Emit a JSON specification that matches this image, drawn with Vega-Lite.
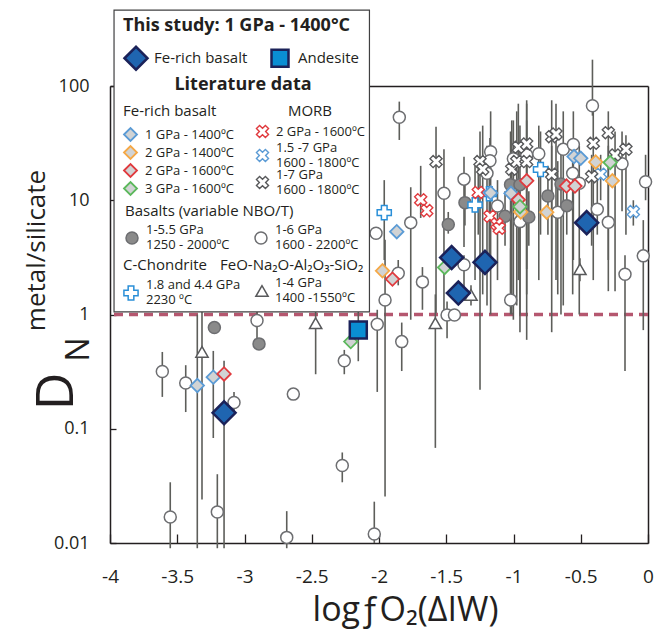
{
  "$schema": "https://vega.github.io/schema/vega-lite/v6.json",
  "width": 538,
  "height": 457,
  "autosize": {"type": "none"},
  "padding": {"left": 110, "top": 86, "right": 10, "bottom": 90},
  "config": {"view": {"stroke": null}, "font": "Open Sans"},
  "data": {"values": [
    {"g":"o","s":"1-6 GPa|1600 - 2200ºC","x":-3.611,"y":0.317,"lo":0.19,"hi":0.47},
    {"g":"o","s":"1-6 GPa|1600 - 2200ºC","x":-3.437,"y":0.251,"lo":0.14,"hi":0.36},
    {"g":"o","s":"1-6 GPa|1600 - 2200ºC","x":-3.078,"y":0.170,"lo":0.14,"hi":0.21},
    {"g":"o","s":"1-6 GPa|1600 - 2200ºC","x":-2.637,"y":0.201},
    {"g":"o","s":"1-6 GPa|1600 - 2200ºC","x":-2.273,"y":0.0476,"lo":0.034,"hi":0.062},
    {"g":"o","s":"1-6 GPa|1600 - 2200ºC","x":-3.552,"y":0.0169,"lo":0.009,"hi":0.034},
    {"g":"o","s":"1-6 GPa|1600 - 2200ºC","x":-3.202,"y":0.0187,"lo":0.009,"hi":0.040},
    {"g":"o","s":"1-6 GPa|1600 - 2200ºC","x":-2.686,"y":0.0112,"lo":0.009,"hi":0.019},
    {"g":"o","s":"1-6 GPa|1600 - 2200ºC","x":-2.035,"y":0.0120,"lo":0.010,"hi":0.023},
    {"g":"o","s":"1-6 GPa|1600 - 2200ºC","x":-2.907,"y":0.885,"lo":0.56,"hi":1.15},
    {"g":"o","s":"1-6 GPa|1600 - 2200ºC","x":-2.258,"y":0.393,"lo":0.30,"hi":0.49},
    {"g":"o","s":"1-6 GPa|1600 - 2200ºC","x":-2.013,"y":0.822,"lo":0.21,"hi":1.1},
    {"g":"o","s":"1-6 GPa|1600 - 2200ºC","x":-1.955,"y":1.34,"lo":0.0255,"hi":4.5},
    {"g":"o","s":"1-6 GPa|1600 - 2200ºC","x":-1.831,"y":0.579,"lo":0.32,"hi":0.85},
    {"g":"o","s":"1-6 GPa|1600 - 2200ºC","x":-1.494,"y":0.99,"lo":0.62,"hi":1.3},
    {"g":"o","s":"1-6 GPa|1600 - 2200ºC","x":-1.439,"y":0.99},
    {"g":"o","s":"1-6 GPa|1600 - 2200ºC","x":-1.849,"y":53.2,"lo":33.7,"hi":73},
    {"g":"o","s":"1-6 GPa|1600 - 2200ºC","x":-2.022,"y":5.14},
    {"g":"o","s":"1-6 GPa|1600 - 2200ºC","x":-1.764,"y":6.37,"lo":0.9,"hi":13},
    {"g":"o","s":"1-6 GPa|1600 - 2200ºC","x":-1.857,"y":2.30,"lo":1.8,"hi":3.0},
    {"g":"o","s":"1-6 GPa|1600 - 2200ºC","x":-1.677,"y":1.93,"lo":1.1,"hi":2.6},
    {"g":"o","s":"1-6 GPa|1600 - 2200ºC","x":-1.517,"y":11.5,"lo":0.9,"hi":28},
    {"g":"o","s":"1-6 GPa|1600 - 2200ºC","x":-1.368,"y":2.73,"lo":1.6,"hi":3.3},
    {"g":"o","s":"1-6 GPa|1600 - 2200ºC","x":-1.368,"y":15.3,"lo":3.9,"hi":24},
    {"g":"o","s":"1-6 GPa|1600 - 2200ºC","x":-1.170,"y":26.6,"lo":1.0,"hi":60},
    {"g":"o","s":"1-6 GPa|1600 - 2200ºC","x":-1.175,"y":22.2,"lo":3,"hi":35},
    {"g":"o","s":"1-6 GPa|1600 - 2200ºC","x":-1.197,"y":17.2,"lo":1.2,"hi":30},
    {"g":"o","s":"1-6 GPa|1600 - 2200ºC","x":-1.119,"y":8.92,"lo":2,"hi":15},
    {"g":"o","s":"1-6 GPa|1600 - 2200ºC","x":-1.001,"y":23.1,"lo":0.9,"hi":50},
    {"g":"o","s":"1-6 GPa|1600 - 2200ºC","x":-0.902,"y":24.9,"lo":0.6,"hi":70},
    {"g":"o","s":"1-6 GPa|1600 - 2200ºC","x":-0.812,"y":25.5,"lo":2,"hi":45},
    {"g":"o","s":"1-6 GPa|1600 - 2200ºC","x":-1.021,"y":1.34,"lo":1.2,"hi":3.8},
    {"g":"o","s":"1-6 GPa|1600 - 2200ºC","x":-0.952,"y":6.50,"lo":1,"hi":12},
    {"g":"o","s":"1-6 GPa|1600 - 2200ºC","x":-0.671,"y":7.85,"lo":1.5,"hi":22},
    {"g":"o","s":"1-6 GPa|1600 - 2200ºC","x":-0.630,"y":27.9,"lo":1.2,"hi":60},
    {"g":"o","s":"1-6 GPa|1600 - 2200ºC","x":-0.555,"y":30.8,"lo":3,"hi":60},
    {"g":"o","s":"1-6 GPa|1600 - 2200ºC","x":-0.560,"y":17.2,"lo":1.5,"hi":35},
    {"g":"o","s":"1-6 GPa|1600 - 2200ºC","x":-0.511,"y":14.1,"lo":1.0,"hi":30},
    {"g":"o","s":"1-6 GPa|1600 - 2200ºC","x":-0.413,"y":67.2,"lo":55,"hi":170},
    {"g":"o","s":"1-6 GPa|1600 - 2200ºC","x":-0.377,"y":8.34,"lo":5,"hi":20},
    {"g":"o","s":"1-6 GPa|1600 - 2200ºC","x":-0.295,"y":6.42,"lo":1.6,"hi":30},
    {"g":"o","s":"1-6 GPa|1600 - 2200ºC","x":-0.193,"y":20.9,"lo":8,"hi":40},
    {"g":"o","s":"1-6 GPa|1600 - 2200ºC","x":-0.018,"y":14.5,"lo":10,"hi":25},
    {"g":"o","s":"1-6 GPa|1600 - 2200ºC","x":-0.035,"y":3.26,"lo":0.73,"hi":6.7},
    {"g":"o","s":"1-6 GPa|1600 - 2200ºC","x":-0.171,"y":2.25,"lo":0.32,"hi":3.3},
    {"g":"f","s":"1-5.5 GPa|1250 - 2000ºC","x":-3.224,"y":0.768},
    {"g":"f","s":"1-5.5 GPa|1250 - 2000ºC","x":-2.892,"y":0.553},
    {"g":"f","s":"1-5.5 GPa|1250 - 2000ºC","x":-1.485,"y":6.14,"lo":5.1,"hi":7.9},
    {"g":"f","s":"1-5.5 GPa|1250 - 2000ºC","x":-1.361,"y":9.53,"lo":6,"hi":14},
    {"g":"f","s":"1-5.5 GPa|1250 - 2000ºC","x":-1.063,"y":7.24,"lo":4,"hi":12},
    {"g":"f","s":"1-5.5 GPa|1250 - 2000ºC","x":-1.022,"y":13.7,"lo":1.0,"hi":40},
    {"g":"f","s":"1-5.5 GPa|1250 - 2000ºC","x":-0.952,"y":13.7,"lo":0.7,"hi":45},
    {"g":"f","s":"1-5.5 GPa|1250 - 2000ºC","x":-0.886,"y":7.14,"lo":4,"hi":12},
    {"g":"f","s":"1-5.5 GPa|1250 - 2000ºC","x":-0.744,"y":10.9,"lo":5,"hi":20},
    {"g":"f","s":"1-5.5 GPa|1250 - 2000ºC","x":-0.647,"y":13.9,"lo":1.0,"hi":30},
    {"g":"f","s":"1-5.5 GPa|1250 - 2000ºC","x":-0.604,"y":8.97,"lo":5,"hi":15},
    {"g":"t","s":"1-4 GPa|1400 -1550ºC","x":-3.316,"y":0.471,"lo":0.024,"hi":1.5},
    {"g":"t","s":"1-4 GPa|1400 -1550ºC","x":-2.471,"y":0.839,"lo":0.3,"hi":1.1},
    {"g":"t","s":"1-4 GPa|1400 -1550ºC","x":-1.581,"y":0.839,"lo":0.068,"hi":1.5},
    {"g":"t","s":"1-4 GPa|1400 -1550ºC","x":-1.316,"y":1.48,"lo":1.2,"hi":1.8},
    {"g":"t","s":"1-4 GPa|1400 -1550ºC","x":-0.506,"y":2.49,"lo":1.95,"hi":3.1},
    {"g":"p","s":"1.8 and 4.4 GPa| 2230 ºC","x":-1.961,"y":7.79,"lo":3.0,"hi":15},
    {"g":"p","s":"1.8 and 4.4 GPa| 2230 ºC","x":-1.286,"y":9.10,"lo":2,"hi":20},
    {"g":"p","s":"1.8 and 4.4 GPa| 2230 ºC","x":-1.180,"y":11.4,"lo":3,"hi":25},
    {"g":"p","s":"1.8 and 4.4 GPa| 2230 ºC","x":-0.799,"y":18.6,"lo":5,"hi":40},
    {"g":"mr","s":"2 GPa - 1600ºC","x":-1.690,"y":10.1,"lo":7,"hi":20},
    {"g":"mr","s":"2 GPa - 1600ºC","x":-1.645,"y":8.11},
    {"g":"mr","s":"2 GPa - 1600ºC","x":-1.262,"y":11.7,"lo":5,"hi":22},
    {"g":"mr","s":"2 GPa - 1600ºC","x":-1.175,"y":7.24,"lo":4,"hi":12},
    {"g":"mr","s":"2 GPa - 1600ºC","x":-1.123,"y":6.20},
    {"g":"mr","s":"2 GPa - 1600ºC","x":-1.106,"y":5.69},
    {"g":"m","s":"1.5 -7 GPa|1600 - 1800ºC","x":-0.352,"y":16.9,"lo":10,"hi":25},
    {"g":"m","s":"1.5 -7 GPa|1600 - 1800ºC","x":-0.109,"y":7.95,"lo":6,"hi":10},
    {"g":"m","s":"1-7 GPa|1600 - 1800ºC","x":-1.576,"y":21.8,"lo":1.03,"hi":44},
    {"g":"m","s":"1-7 GPa|1600 - 1800ºC","x":-1.249,"y":21.8,"lo":0.22,"hi":40},
    {"g":"m","s":"1-7 GPa|1600 - 1800ºC","x":-1.229,"y":18.7,"lo":1.5,"hi":45},
    {"g":"m","s":"1-7 GPa|1600 - 1800ºC","x":-1.013,"y":18.7,"lo":1.0,"hi":50},
    {"g":"m","s":"1-7 GPa|1600 - 1800ºC","x":-0.976,"y":21.8,"lo":1.2,"hi":60},
    {"g":"m","s":"1-7 GPa|1600 - 1800ºC","x":-0.964,"y":29.1,"lo":2,"hi":70},
    {"g":"m","s":"1-7 GPa|1600 - 1800ºC","x":-0.902,"y":31.1,"lo":2.5,"hi":75},
    {"g":"m","s":"1-7 GPa|1600 - 1800ºC","x":-0.902,"y":21.8,"lo":1.5,"hi":50},
    {"g":"m","s":"1-7 GPa|1600 - 1800ºC","x":-0.716,"y":36.0,"lo":0.7,"hi":75},
    {"g":"m","s":"1-7 GPa|1600 - 1800ºC","x":-0.684,"y":38.0,"lo":2,"hi":70},
    {"g":"m","s":"1-7 GPa|1600 - 1800ºC","x":-0.716,"y":16.9,"lo":3,"hi":30},
    {"g":"m","s":"1-7 GPa|1600 - 1800ºC","x":-0.407,"y":31.5,"lo":2,"hi":60},
    {"g":"m","s":"1-7 GPa|1600 - 1800ºC","x":-0.295,"y":39.0,"lo":3,"hi":60},
    {"g":"m","s":"1-7 GPa|1600 - 1800ºC","x":-0.419,"y":16.1,"lo":4,"hi":25},
    {"g":"m","s":"1-7 GPa|1600 - 1800ºC","x":-0.245,"y":24.9,"lo":1.6,"hi":40},
    {"g":"m","s":"1-7 GPa|1600 - 1800ºC","x":-0.164,"y":27.9,"lo":5,"hi":37},
    {"g":"e","s":"1 GPa - 1400ºC","x":-3.351,"y":0.239,"lo":0.009,"hi":1.0},
    {"g":"e","s":"1 GPa - 1400ºC","x":-3.232,"y":0.283,"lo":0.083,"hi":0.48},
    {"g":"e","s":"1 GPa - 1400ºC","x":-1.868,"y":5.31},
    {"g":"e","s":"1 GPa - 1400ºC","x":-1.170,"y":11.6},
    {"g":"e","s":"1 GPa - 1400ºC","x":-1.019,"y":11.5},
    {"g":"e","s":"1 GPa - 1400ºC","x":-0.550,"y":24.1},
    {"g":"e","s":"1 GPa - 1400ºC","x":-0.500,"y":23.3},
    {"g":"e","s":"2 GPa - 1400ºC","x":-1.974,"y":2.41},
    {"g":"e","s":"2 GPa - 1400ºC","x":-0.946,"y":7.90},
    {"g":"e","s":"2 GPa - 1400ºC","x":-0.753,"y":7.85},
    {"g":"e","s":"2 GPa - 1400ºC","x":-0.389,"y":21.6},
    {"g":"e","s":"2 GPa - 1400ºC","x":-0.265,"y":14.8},
    {"g":"e","s":"2 GPa - 1600ºC","x":-3.152,"y":0.302},
    {"g":"e","s":"2 GPa - 1600ºC","x":-1.900,"y":2.04},
    {"g":"e","s":"2 GPa - 1600ºC","x":-0.964,"y":10.1},
    {"g":"e","s":"2 GPa - 1600ºC","x":-0.902,"y":14.8},
    {"g":"e","s":"2 GPa - 1600ºC","x":-0.606,"y":13.3},
    {"g":"e","s":"2 GPa - 1600ºC","x":-0.543,"y":13.3},
    {"g":"e","s":"3 GPa - 1600ºC","x":-2.210,"y":0.579},
    {"g":"e","s":"3 GPa - 1600ºC","x":-1.512,"y":2.58},
    {"g":"e","s":"3 GPa - 1600ºC","x":-0.952,"y":8.79},
    {"g":"e","s":"3 GPa - 1600ºC","x":-0.281,"y":21.4},
    {"g":"s","s":"Fe-rich basalt","x":-3.152,"y":0.138,"lo":0.009,"hi":0.393},
    {"g":"s","s":"Fe-rich basalt","x":-1.460,"y":3.15},
    {"g":"s","s":"Fe-rich basalt","x":-1.410,"y":1.54},
    {"g":"s","s":"Fe-rich basalt","x":-1.212,"y":2.86},
    {"g":"s","s":"Fe-rich basalt","x":-0.456,"y":6.37},
    {"g":"s","s":"Andesite","x":-2.154,"y":0.733,"lo":0.39,"hi":1.34}
  ]},
  "resolve": {
    "scale": {"fill": "independent", "stroke": "independent", "shape": "independent", "size": "independent"},
    "axis": {"x": "independent", "y": "independent"}
  },
  "layer": [
    {
      "data": {"values": [{}]},
      "mark": {"type": "rule", "color": "#b5576f", "strokeWidth": 3.5, "strokeDash": [9, 6]},
      "encoding": {
        "y": {"datum": 1, "type": "quantitative", "scale": {"type": "log", "domain": [0.01, 100], "nice": false}, "axis": null}
      }
    },
    {
      "transform": [{"filter": "isValid(datum.lo)"}],
      "mark": {"type": "rule", "color": "#5d5e5a", "strokeWidth": 1.6},
      "encoding": {
        "x": {"field": "x", "type": "quantitative", "scale": {"domain": [-4, 0], "nice": false, "zero": false},
          "axis": {"orient": "bottom", "values": [-4, -3.5, -3, -2.5, -2, -1.5, -1, -0.5, 0],
            "labelExpr": "datum.value == 0 ? '0' : '-' + format(-datum.value, '~g')",
            "labelFont": "Open Sans", "labelFontSize": 19, "labelColor": "#231f20", "labelPadding": 33, "labelFlush": false, "labelOverlap": false,
            "tickSize": -9, "tickColor": "#231f20", "tickWidth": 1.3, "domainColor": "#231f20", "domainWidth": 1.5, "grid": false,
            "title": "logƒO₂(ΔIW)", "titleFont": "Open Sans", "titleFontSize": 34, "titleFontWeight": "normal", "titleColor": "#231f20",
            "titleX": 295, "titleY": 67, "titleAlign": "center", "titleBaseline": "middle"}},
        "y": {"field": "lo", "type": "quantitative", "scale": {"type": "log", "domain": [0.01, 100], "nice": false},
          "axis": {"orient": "left", "values": [0.01, 0.1, 1, 10, 100], "labelExpr": "format(datum.value, '~g')",
            "labelFont": "Open Sans", "labelFontSize": 18, "labelColor": "#231f20", "labelPadding": 27, "labelFlush": false,
            "tickSize": -6, "tickColor": "#231f20", "tickWidth": 1.3, "domainColor": "#231f20", "domainWidth": 1.5, "grid": false,
            "title": "D", "titleFont": "Open Sans", "titleFontSize": 52, "titleFontWeight": "normal", "titleColor": "#231f20",
            "titleAngle": 270, "titleX": -54, "titleY": 305, "titleAlign": "center", "titleBaseline": "middle"}},
        "y2": {"field": "hi"}
      }
    },
    {
      "transform": [{"filter": "datum.g == 'o' || datum.g == 'f'"}],
      "mark": {"type": "point", "shape": "circle", "size": 144, "stroke": "#6d6e71", "strokeWidth": 1.5, "opacity": 1, "fillOpacity": 1},
      "encoding": {
        "x": {"field": "x", "type": "quantitative", "scale": {"domain": [-4, 0], "nice": false, "zero": false}, "axis": null},
        "y": {"field": "y", "type": "quantitative", "scale": {"type": "log", "domain": [0.01, 100], "nice": false}, "axis": null},
        "fill": {"field": "s", "type": "nominal",
          "scale": {"domain": ["1-5.5 GPa|1250 - 2000ºC", "1-6 GPa|1600 - 2200ºC"], "range": ["#8a8a8a", "#ffffff"]},
          "legend": {"orient": "none", "legendX": 15, "legendY": 118, "title": "Basalts (variable NBO/T)",
            "titleFont": "Open Sans", "titleFontSize": 15, "titleFontWeight": "normal", "titleColor": "#231f20", "titlePadding": 12, "titleLimit": 400,
            "labelFont": "Open Sans", "labelFontSize": 13, "labelColor": "#231f20", "labelOffset": 7, "labelExpr": "split(datum.label, '|')",
            "labelBaseline": "line-bottom",
            "columns": 2, "direction": "horizontal", "columnPadding": 22, "symbolType": "circle", "symbolSize": 144, "symbolStrokeWidth": 1.5,
            "padding": 0, "zindex": 1}}
      }
    },
    {
      "transform": [{"filter": "datum.g == 't'"}],
      "mark": {"type": "point", "shape": "triangle-up", "size": 150, "fill": "#ffffff", "strokeWidth": 1.5, "opacity": 1, "fillOpacity": 1},
      "encoding": {
        "x": {"field": "x", "type": "quantitative", "scale": {"domain": [-4, 0], "nice": false, "zero": false}, "axis": null},
        "y": {"field": "y", "type": "quantitative", "scale": {"type": "log", "domain": [0.01, 100], "nice": false}, "axis": null},
        "stroke": {"field": "s", "type": "nominal", "scale": {"domain": ["1-4 GPa|1400 -1550ºC"], "range": ["#58595b"]},
          "legend": {"orient": "none", "legendX": 145, "legendY": 198, "title": null,
            "labelFont": "Open Sans", "labelFontSize": 13, "labelColor": "#231f20", "labelOffset": 6, "labelExpr": "split(datum.label, '|')",
            "labelBaseline": "line-bottom",
            "symbolType": "triangle-up", "symbolSize": 150, "symbolStrokeWidth": 1.5, "symbolFillColor": "#ffffff",
            "padding": 0, "zindex": 1}}
      }
    },
    {
      "transform": [{"filter": "datum.g == 'p'"}],
      "mark": {"type": "point", "shape": "cross", "size": 200, "fill": "#ffffff", "strokeWidth": 1.5, "opacity": 1, "fillOpacity": 1},
      "encoding": {
        "x": {"field": "x", "type": "quantitative", "scale": {"domain": [-4, 0], "nice": false, "zero": false}, "axis": null},
        "y": {"field": "y", "type": "quantitative", "scale": {"type": "log", "domain": [0.01, 100], "nice": false}, "axis": null},
        "stroke": {"field": "s", "type": "nominal", "scale": {"domain": ["1.8 and 4.4 GPa| 2230 ºC"], "range": ["#2a8fd8"]},
          "legend": {"orient": "none", "legendX": 13, "legendY": 172, "title": "C-Chondrite",
            "titleFont": "Open Sans", "titleFontSize": 15, "titleFontWeight": "normal", "titleColor": "#231f20", "titlePadding": 12,
            "labelFont": "Open Sans", "labelFontSize": 13, "labelColor": "#231f20", "labelOffset": 7, "labelExpr": "split(datum.label, '|')",
            "labelBaseline": "line-bottom",
            "symbolType": "cross", "symbolSize": 200, "symbolStrokeWidth": 1.5, "symbolFillColor": "#ffffff",
            "padding": 0, "zindex": 1}}
      }
    },
    {
      "transform": [{"filter": "datum.g == 'm'"}],
      "mark": {"type": "point", "shape": "M0.46,-0.955L0.955,-0.46L0.495,0L0.955,0.46L0.46,0.955L0,0.495L-0.46,0.955L-0.955,0.46L-0.495,0L-0.955,-0.46L-0.46,-0.955L0,-0.495Z", "size": 160, "fill": "#ffffff", "strokeWidth": 1.4, "opacity": 1, "fillOpacity": 1},
      "encoding": {
        "x": {"field": "x", "type": "quantitative", "scale": {"domain": [-4, 0], "nice": false, "zero": false}, "axis": null},
        "y": {"field": "y", "type": "quantitative", "scale": {"type": "log", "domain": [0.01, 100], "nice": false}, "axis": null},
        "stroke": {"field": "s", "type": "nominal",
          "scale": {"domain": ["1.5 -7 GPa|1600 - 1800ºC", "1-7 GPa|1600 - 1800ºC"], "range": ["#5b9bd5", "#58595b"]},
          "legend": {"orient": "none", "legendX": 145, "legendY": 62, "title": null,
            "labelFont": "Open Sans", "labelFontSize": 13, "labelColor": "#231f20", "labelOffset": 6, "labelExpr": "split(datum.label, '|')",
            "labelBaseline": "line-bottom", "direction": "vertical", "rowPadding": -2,
            "symbolType": "M0.46,-0.955L0.955,-0.46L0.495,0L0.955,0.46L0.46,0.955L0,0.495L-0.46,0.955L-0.955,0.46L-0.495,0L-0.955,-0.46L-0.46,-0.955L0,-0.495Z",
            "symbolSize": 160, "symbolStrokeWidth": 1.4, "symbolFillColor": "#ffffff",
            "padding": 0, "zindex": 1}}
      }
    },
    {
      "transform": [{"filter": "datum.g == 'mr'"}],
      "mark": {"type": "point", "shape": "M0.46,-0.955L0.955,-0.46L0.495,0L0.955,0.46L0.46,0.955L0,0.495L-0.46,0.955L-0.955,0.46L-0.495,0L-0.955,-0.46L-0.46,-0.955L0,-0.495Z", "size": 160, "fill": "#ffffff", "strokeWidth": 1.4, "opacity": 1, "fillOpacity": 1},
      "encoding": {
        "x": {"field": "x", "type": "quantitative", "scale": {"domain": [-4, 0], "nice": false, "zero": false}, "axis": null},
        "y": {"field": "y", "type": "quantitative", "scale": {"type": "log", "domain": [0.01, 100], "nice": false}, "axis": null},
        "stroke": {"field": "s", "type": "nominal",
          "scale": {"domain": ["2 GPa - 1600ºC"], "range": ["#e03a3e"]},
          "legend": {"orient": "none", "legendX": 145, "legendY": 18, "title": "MORB", "titleAnchor": "middle",
            "titleFont": "Open Sans", "titleFontSize": 15, "titleFontWeight": "normal", "titleColor": "#231f20", "titlePadding": 5,
            "labelFont": "Open Sans", "labelFontSize": 13, "labelColor": "#231f20", "labelOffset": 6,
            "direction": "vertical",
            "symbolType": "M0.46,-0.955L0.955,-0.46L0.495,0L0.955,0.46L0.46,0.955L0,0.495L-0.46,0.955L-0.955,0.46L-0.495,0L-0.955,-0.46L-0.46,-0.955L0,-0.495Z",
            "symbolSize": 160, "symbolStrokeWidth": 1.4, "symbolFillColor": "#ffffff",
            "padding": 0, "zindex": 1}}
      }
    },
    {
      "transform": [{"filter": "datum.g == 'e'"}],
      "mark": {"type": "point", "shape": "diamond", "size": 180, "fill": "#d1d3d4", "strokeWidth": 1.8, "opacity": 1, "fillOpacity": 1},
      "encoding": {
        "x": {"field": "x", "type": "quantitative", "scale": {"domain": [-4, 0], "nice": false, "zero": false}, "axis": null},
        "y": {"field": "y", "type": "quantitative", "scale": {"type": "log", "domain": [0.01, 100], "nice": false}, "axis": null},
        "stroke": {"field": "s", "type": "nominal",
          "scale": {"domain": ["1 GPa - 1400ºC", "2 GPa - 1400ºC", "2 GPa - 1600ºC", "3 GPa - 1600ºC"], "range": ["#5b9bd5", "#f5a846", "#e03a3e", "#5cb85c"]},
          "legend": {"orient": "none", "legendX": 13, "legendY": 18, "title": "Fe-rich basalt",
            "titleFont": "Open Sans", "titleFontSize": 15, "titleFontWeight": "normal", "titleColor": "#231f20", "titlePadding": 8,
            "labelFont": "Open Sans", "labelFontSize": 13, "labelColor": "#231f20", "labelOffset": 7,
            "direction": "vertical", "rowPadding": -4.7,
            "symbolType": "diamond", "symbolSize": 169, "symbolStrokeWidth": 1.8, "symbolFillColor": "#d1d3d4",
            "padding": 0, "zindex": 1}}
      }
    },
    {
      "transform": [{"filter": "datum.g == 's'"}],
      "mark": {"type": "point", "stroke": "#1b2259", "strokeWidth": 2.5, "opacity": 1, "fillOpacity": 1},
      "encoding": {
        "x": {"field": "x", "type": "quantitative", "scale": {"domain": [-4, 0], "nice": false, "zero": false},
          "axis": {"orient": "top", "title": "metal/silicate", "ticks": false, "labels": false, "grid": false,
            "domain": true, "domainColor": "#231f20", "domainWidth": 1.5, "zindex": 0,
            "titleFont": "Open Sans", "titleFontSize": 26, "titleFontWeight": "normal", "titleColor": "#231f20",
            "titleAngle": 270, "titleX": -74, "titleY": 164, "titleAlign": "center", "titleBaseline": "middle"}},
        "y": {"field": "y", "type": "quantitative", "scale": {"type": "log", "domain": [0.01, 100], "nice": false},
          "axis": {"orient": "right", "title": "N", "ticks": false, "labels": false, "grid": false,
            "domain": true, "domainColor": "#231f20", "domainWidth": 1.5, "zindex": 0,
            "titleFont": "Open Sans", "titleFontSize": 32, "titleFontWeight": "normal", "titleColor": "#231f20",
            "titleAngle": 270, "titleX": -570, "titleY": 263, "titleAlign": "center", "titleBaseline": "middle"}},
        "shape": {"field": "s", "type": "nominal", "scale": {"domain": ["Fe-rich basalt", "Andesite"], "range": ["diamond", "square"]},
          "legend": {"orient": "none", "legendX": 13, "legendY": -69, "title": "This study: 1 GPa - 1400°C",
            "titleFont": "Open Sans", "titleFontSize": 18, "titleFontWeight": "bold", "titleColor": "#231f20", "titlePadding": 10, "titleLimit": 400,
            "labelFont": "Open Sans", "labelFontSize": 15, "labelColor": "#231f20", "labelOffset": 5,
            "columns": 2, "direction": "horizontal", "columnPadding": 18, "symbolStrokeWidth": 2.5, "padding": 0, "zindex": 1}},
        "fill": {"field": "s", "type": "nominal", "scale": {"domain": ["Fe-rich basalt", "Andesite"], "range": ["#1f65b0", "#0a8ed3"]},
          "legend": {"orient": "none", "legendX": 13, "legendY": -69, "title": "This study: 1 GPa - 1400°C",
            "titleFont": "Open Sans", "titleFontSize": 18, "titleFontWeight": "bold", "titleColor": "#231f20", "titlePadding": 10, "titleLimit": 400,
            "labelFont": "Open Sans", "labelFontSize": 15, "labelColor": "#231f20", "labelOffset": 5,
            "columns": 2, "direction": "horizontal", "columnPadding": 18, "symbolStrokeWidth": 2.5, "padding": 0, "zindex": 1}},
        "size": {"field": "s", "type": "ordinal", "scale": {"domain": ["Fe-rich basalt", "Andesite"], "range": [529, 289]},
          "legend": {"orient": "none", "legendX": 13, "legendY": -69, "title": "This study: 1 GPa - 1400°C",
            "titleFont": "Open Sans", "titleFontSize": 18, "titleFontWeight": "bold", "titleColor": "#231f20", "titlePadding": 10, "titleLimit": 400,
            "labelFont": "Open Sans", "labelFontSize": 15, "labelColor": "#231f20", "labelOffset": 5,
            "columns": 2, "direction": "horizontal", "columnPadding": 18, "symbolStrokeWidth": 2.5, "padding": 0, "zindex": 1}}
      }
    },
    {
      "data": {"values": [{}]},
      "mark": {"type": "rect", "fill": "#ffffff", "stroke": "#404041", "strokeWidth": 1.2},
      "encoding": {
        "x": {"datum": -3.97, "type": "quantitative", "scale": {"domain": [-4, 0], "nice": false, "zero": false}, "axis": null},
        "x2": {"datum": -2.071},
        "y": {"datum": 462, "type": "quantitative", "scale": {"type": "log", "domain": [0.01, 100], "nice": false}, "axis": null},
        "y2": {"datum": 1.054}
      }
    },
    {
      "data": {"values": [{}]},
      "mark": {"type": "text", "text": "Literature data", "font": "Open Sans", "fontSize": 18, "fontWeight": "bold", "fill": "#231f20", "align": "center", "baseline": "middle"},
      "encoding": {
        "x": {"datum": -3.011, "type": "quantitative", "scale": {"domain": [-4, 0], "nice": false, "zero": false}, "axis": null},
        "y": {"datum": 102, "type": "quantitative", "scale": {"type": "log", "domain": [0.01, 100], "nice": false}, "axis": null}
      }
    },
    {
      "data": {"values": [{}]},
      "mark": {"type": "text", "text": "FeO-Na₂O-Al₂O₃-SiO₂", "font": "Open Sans", "fontSize": 15, "fill": "#231f20", "align": "left", "baseline": "middle"},
      "encoding": {
        "x": {"datum": -3.182, "type": "quantitative", "scale": {"domain": [-4, 0], "nice": false, "zero": false}, "axis": null},
        "y": {"datum": 2.72, "type": "quantitative", "scale": {"type": "log", "domain": [0.01, 100], "nice": false}, "axis": null}
      }
    }
  ]
}
